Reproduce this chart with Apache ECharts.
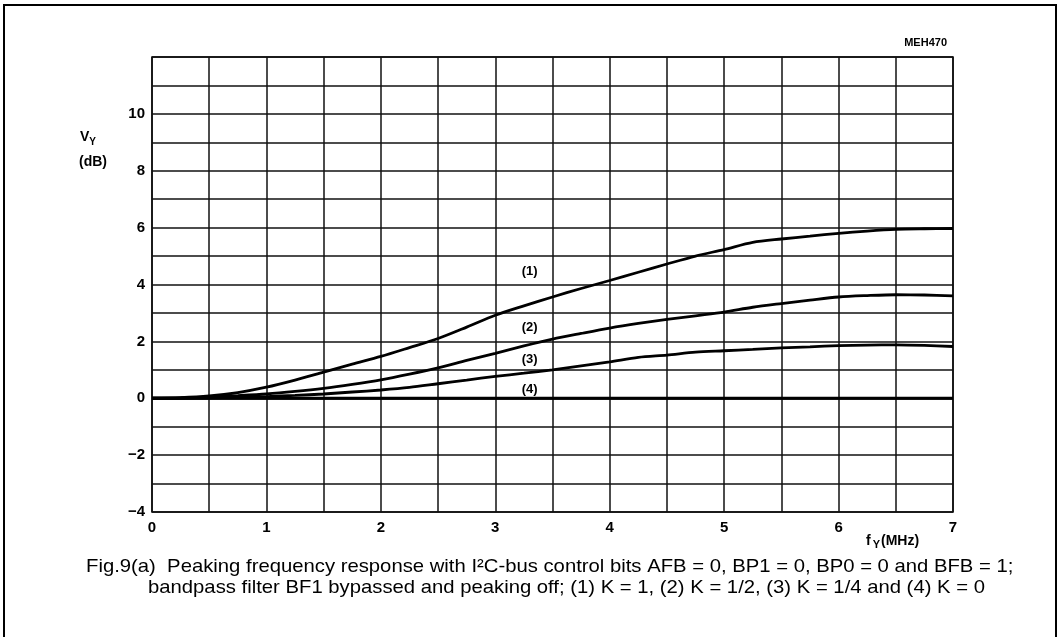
<!DOCTYPE html>
<html>
<head>
<meta charset="utf-8">
<title>Fig.9(a) Peaking frequency response</title>
<script src="https://cdn.jsdelivr.net/npm/echarts@6/dist/echarts.min.js"></script>
<style>
  html, body { margin: 0; padding: 0; background: #fff; }
  #chart { width: 1058px; height: 637px; }
</style>
</head>
<body>
<div id="chart"></div>
<script>
// frequency points (MHz)
var freq = [0, 0.25, 0.5, 0.75, 1, 1.25, 1.5, 1.75, 2, 2.25, 2.5, 2.75, 3, 3.25, 3.5,
            3.75, 4, 4.25, 4.5, 4.75, 5, 5.25, 5.5, 5.75, 6, 6.25, 6.5, 6.75, 7];
// V_Y (dB)
var k1 = [0, 0.02, 0.08, 0.2, 0.39, 0.64, 0.92, 1.2, 1.47, 1.78, 2.1, 2.5, 2.92, 3.25, 3.56,
          3.86, 4.14, 4.43, 4.72, 5.0, 5.23, 5.48, 5.6, 5.7, 5.8, 5.88, 5.94, 5.96, 5.97];
var k2 = [0, 0.01, 0.04, 0.09, 0.15, 0.24, 0.35, 0.49, 0.65, 0.85, 1.07, 1.33, 1.58, 1.84, 2.08,
          2.28, 2.47, 2.63, 2.77, 2.9, 3.03, 3.2, 3.33, 3.45, 3.56, 3.61, 3.64, 3.63, 3.6];
var k3 = [0, 0, 0.01, 0.03, 0.06, 0.1, 0.15, 0.22, 0.29, 0.38, 0.51, 0.64, 0.77, 0.88, 1.0,
          1.14, 1.28, 1.44, 1.52, 1.62, 1.67, 1.72, 1.77, 1.81, 1.85, 1.87, 1.88, 1.86, 1.82];
var k4 = [0, 0, 0, 0, 0, 0, 0, 0, 0, 0, 0, 0, 0, 0, 0,
          0, 0, 0, 0, 0, 0, 0, 0, 0, 0, 0, 0, 0, 0];
var curveNames = ['(1)', '(2)', '(3)', '(4)'];
// where each curve name sits [MHz, dB]
var nameAt = [[3.3, 4.47], [3.3, 2.5], [3.3, 1.37], [3.3, 0.32]];
var xTicks = [0, 1, 2, 3, 4, 5, 6, 7];
var yTicks = [-4, -2, 0, 2, 4, 6, 8, 10];

var FONT = '"Liberation Sans", Arial, sans-serif';
var mychart = echarts.init(document.getElementById('chart'));

function pairs(ys) {
    return freq.map(function (f, i) { return [f, ys[i]]; });
}

var curves = [k1, k2, k3, k4];
var series = curves.map(function (ys, i) {
    return {
        name: curveNames[i],
        type: 'line',
        data: pairs(ys),
        smooth: 0.3,
        symbol: 'none',
        lineStyle: { color: '#000', width: 2.8 },
        z: 5,
        markPoint: {
            symbol: 'circle',
            symbolSize: 1,
            itemStyle: { color: 'rgba(0,0,0,0)' },
            label: {
                show: true,
                position: 'inside',
                formatter: curveNames[i],
                color: '#000',
                fontFamily: FONT,
                fontSize: 13,
                fontWeight: 'bold'
            },
            data: [{ coord: nameAt[i] }]
        }
    };
});

mychart.setOption({
    animation: false,
    backgroundColor: '#fff',
    grid: {
        left: 152,
        right: 105,
        top: 57,
        bottom: 125,
        show: true,
        borderColor: '#000',
        borderWidth: 1.5
    },
    xAxis: {
        type: 'value',
        min: 0,
        max: 7,
        interval: 0.5,
        axisLine: { show: false },
        axisTick: { show: false },
        splitLine: { show: true, lineStyle: { color: '#111', width: 1.5 } },
        axisLabel: {
            margin: 8,
            color: '#000',
            fontFamily: FONT,
            fontSize: 15,
            fontWeight: 'bold',
            formatter: function (v) { return xTicks.indexOf(v) >= 0 ? String(v) : ''; }
        }
    },
    yAxis: {
        type: 'value',
        min: -4,
        max: 12,
        interval: 1,
        axisLine: { show: false },
        axisTick: { show: false },
        splitLine: { show: true, lineStyle: { color: '#111', width: 1.5 } },
        axisLabel: {
            margin: 7,
            color: '#000',
            fontFamily: FONT,
            fontSize: 15,
            fontWeight: 'bold',
            formatter: function (v) { return yTicks.indexOf(v) >= 0 ? (v < 0 ? '\u2212' + (-v) : String(v)) : ''; }
        }
    },
    series: series,
    graphic: [
        {
            type: 'rect',
            shape: { x: 4, y: 5, width: 1052, height: 650 },
            style: { fill: 'none', stroke: '#000', lineWidth: 2 },
            silent: true
        },
        {
            type: 'text',
            right: 111,
            top: 37,
            style: { text: 'MEH470', font: 'bold 11px ' + FONT, fill: '#000' }
        },
        {
            type: 'text',
            left: 80,
            top: 130,
            style: {
                text: '{a|V}{s|Y}',
                rich: {
                    a: { font: 'bold 14px ' + FONT, fill: '#000', verticalAlign: 'top' },
                    s: { font: 'bold 10px ' + FONT, fill: '#000', padding: [7, 0, 0, 0] }
                }
            }
        },
        {
            type: 'text',
            left: 79,
            top: 155,
            style: { text: '(dB)', font: 'bold 14px ' + FONT, fill: '#000' }
        },
        {
            type: 'text',
            left: 866,
            top: 534,
            style: {
                text: '{a|f}{s|Y}{a|(MHz)}',
                rich: {
                    a: { font: 'bold 14px ' + FONT, fill: '#000' },
                    s: { font: 'bold 11px ' + FONT, fill: '#000', padding: [7, 1, 0, 2] }
                }
            }
        },
        {
            type: 'text',
            left: 86,
            top: 557,
            scaleX: 1.067,
            style: {
                text: 'Fig.9(a)  Peaking frequency response with I\u00b2C-bus control bits AFB = 0, BP1 = 0, BP0 = 0 and BFB = 1;',
                font: '19px ' + FONT,
                fill: '#000'
            }
        },
        {
            type: 'text',
            left: 148,
            top: 578,
            scaleX: 1.067,
            style: {
                text: 'bandpass filter BF1 bypassed and peaking off; (1) K = 1, (2) K = 1/2, (3) K = 1/4 and (4) K = 0',
                font: '19px ' + FONT,
                fill: '#000'
            }
        }
    ]
});
</script>
</body>
</html>
